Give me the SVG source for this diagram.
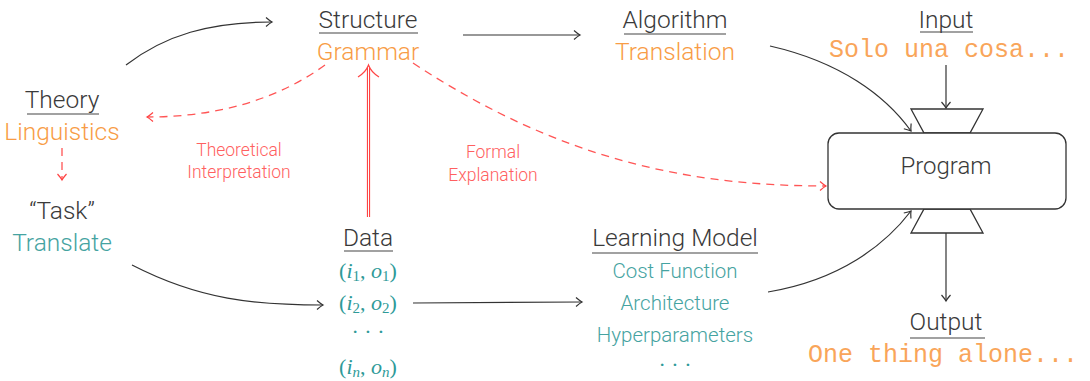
<svg xmlns="http://www.w3.org/2000/svg" width="1090" height="381" viewBox="0 0 1090 381">
  <defs>
    <style>
      .t { font-family: Roboto, "Liberation Sans", sans-serif; font-weight: 300; font-size: 24.5px; text-anchor: middle; }
      .dark { fill: #3A3A3A; }
      .orange { fill: #F89C45; }
      .teal { fill: #45A3A1; }
      .t.item { font-size: 20.5px; }
      .t.redlbl { font-size: 17.5px; fill: #FF6060; }
      .t.prog { font-size: 24px; }
      .mono { font-family: "Liberation Mono", monospace; font-size: 25px; fill: #F9A55A; text-anchor: middle; }
      .math { font-family: "Liberation Serif", serif; font-size: 22px; fill: #2E9A98; text-anchor: middle; }
      .sub { font-size: 15px; }
      .ul { stroke: #444444; stroke-width: 1.2; }
      .edge { fill: none; stroke: #333333; stroke-width: 1.2; }
      .dash { fill: none; stroke: #FF5555; stroke-width: 1.3; stroke-dasharray: 8 6; }
      .shape { fill: #FFFFFF; stroke: #333333; stroke-width: 1.3; }
    </style>
    <marker id="arr" viewBox="-10 -6 12 12" markerWidth="12" markerHeight="12" refX="0" refY="0" orient="auto" markerUnits="userSpaceOnUse">
      <path d="M-6,-4.5 Q-2,-1 0,0 Q-2,1 -6,4.5" fill="none" stroke="#333333" stroke-width="1.2"/>
    </marker>
    <marker id="arrRed" viewBox="-10 -6 12 12" markerWidth="12" markerHeight="12" refX="0" refY="0" orient="auto" markerUnits="userSpaceOnUse">
      <path d="M-6,-4.5 Q-2,-1 0,0 Q-2,1 -6,4.5" fill="none" stroke="#FF4444" stroke-width="1.2"/>
    </marker>
  </defs>

  <rect width="1090" height="381" fill="#FFFFFF"/>

  <!-- connectors -->
  <g id="connectors">
    <path class="edge" d="M126,65 C165,35 210,22 272,22" marker-end="url(#arr)"/>
    <path class="edge" d="M463,35 L580,35" marker-end="url(#arr)"/>
    <path class="edge" d="M770,46 C840,62 885,95 911,131" marker-end="url(#arr)"/>
    <path class="edge" d="M768,292 C840,280 885,245 911,211" marker-end="url(#arr)"/>
    <path class="edge" d="M132,265 C200,300 255,305 323,305" marker-end="url(#arr)"/>
    <path class="edge" d="M413,303 L582,302" marker-end="url(#arr)"/>
    <path class="edge" d="M946,65 L946,108" marker-end="url(#arr)"/>
    <path class="edge" d="M946,233 L946,301" marker-end="url(#arr)"/>

    <!-- double red arrow: Data up to Grammar -->
    <line x1="368.5" y1="217" x2="368.5" y2="67" stroke="#FF4444" stroke-width="3.2"/>
    <line x1="368.5" y1="217" x2="368.5" y2="67" stroke="#FFFFFF" stroke-width="1"/>
    <path d="M358,77 Q366,72 368.5,65 Q371,72 379,77" fill="none" stroke="#FF4444" stroke-width="1.2"/>

    <path class="dash" d="M325,65 C270,105 205,117 147,117" marker-end="url(#arrRed)"/>
    <path class="dash" d="M62,148 L62,180" marker-end="url(#arrRed)"/>
    <path class="dash" d="M413,63 C560,160 690,186 826,186" marker-end="url(#arrRed)"/>

    <text class="t redlbl" x="239" y="156">Theoretical</text>
    <text class="t redlbl" x="239" y="178">Interpretation</text>
    <text class="t redlbl" x="493" y="158">Formal</text>
    <text class="t redlbl" x="493" y="181">Explanation</text>
  </g>

  <g id="structure">
    <text class="t dark" x="368" y="28">Structure</text>
    <line class="ul" x1="319" y1="33" x2="418" y2="33"/>
    <text class="t orange" x="368" y="60">Grammar</text>
  </g>

  <g id="theory">
    <text class="t dark" x="62" y="108">Theory</text>
    <line class="ul" x1="27" y1="114" x2="99" y2="114"/>
    <text class="t orange" x="62" y="140">Linguistics</text>
  </g>

  <g id="task">
    <text class="t dark" x="62" y="219">“Task”</text>
    <text class="t teal" x="62" y="251">Translate</text>
  </g>

  <g id="algorithm">
    <text class="t dark" x="675" y="28">Algorithm</text>
    <line class="ul" x1="624" y1="34" x2="726" y2="34"/>
    <text class="t orange" x="675" y="60">Translation</text>
  </g>

  <g id="data">
    <text class="t dark" x="368" y="246">Data</text>
    <line class="ul" x1="344" y1="251" x2="393" y2="251"/>
    <text class="math" x="368" y="278">(<tspan font-style="italic">i</tspan><tspan class="sub" dy="3">1</tspan><tspan dy="-3">, </tspan><tspan font-style="italic">o</tspan><tspan class="sub" dy="3">1</tspan><tspan dy="-3">)</tspan></text>
    <text class="math" x="368" y="310">(<tspan font-style="italic">i</tspan><tspan class="sub" dy="3">2</tspan><tspan dy="-3">, </tspan><tspan font-style="italic">o</tspan><tspan class="sub" dy="3">2</tspan><tspan dy="-3">)</tspan></text>
    <text class="math" x="368" y="339">· · ·</text>
    <text class="math" x="368" y="374">(<tspan font-style="italic">i</tspan><tspan class="sub" font-style="italic" dy="3">n</tspan><tspan dy="-3">, </tspan><tspan font-style="italic">o</tspan><tspan class="sub" font-style="italic" dy="3">n</tspan><tspan dy="-3">)</tspan></text>
  </g>

  <g id="learning-model">
    <text class="t dark" x="675" y="246">Learning Model</text>
    <line class="ul" x1="592" y1="253" x2="758" y2="253"/>
    <text class="t teal item" x="675" y="278">Cost Function</text>
    <text class="t teal item" x="675" y="310">Architecture</text>
    <text class="t teal item" x="675" y="342">Hyperparameters</text>
    <text class="math" x="675" y="372">· · ·</text>
  </g>

  <g id="input">
    <text class="t dark" x="946" y="28">Input</text>
    <line class="ul" x1="920" y1="32" x2="973" y2="32"/>
    <text class="mono" x="949" y="57">Solo una cosa...</text>
  </g>

  <g id="program">
    <path class="shape" d="M911,109 L983,109 L970,133 L924,133 Z"/>
    <path class="shape" d="M924,209 L970,209 L983,233 L911,233 Z"/>
    <rect class="shape" x="828" y="133" width="238" height="76" rx="11" ry="11"/>
    <text class="t dark prog" x="946" y="174">Program</text>
  </g>

  <g id="output">
    <text class="t dark" x="946" y="330">Output</text>
    <line class="ul" x1="910" y1="338" x2="985" y2="338"/>
    <text class="mono" x="943" y="362">One thing alone...</text>
  </g>
</svg>
